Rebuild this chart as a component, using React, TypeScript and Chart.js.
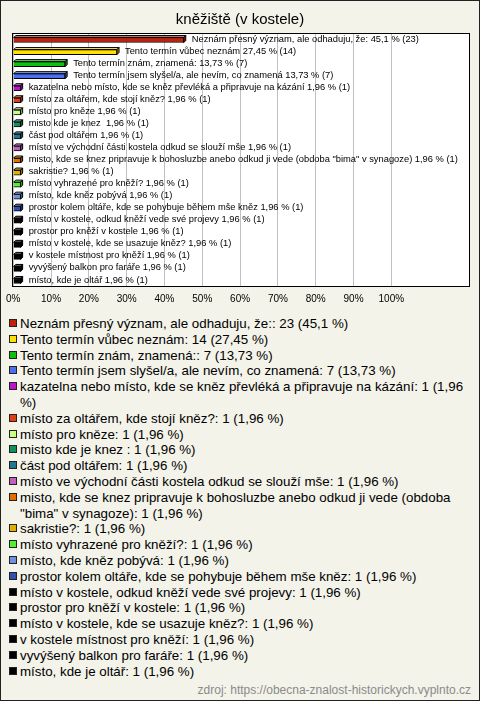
import React, { useEffect, useRef } from "react";
import { Chart, registerables } from "chart.js";

Chart.register(...registerables);

const TITLE = "kněžiště (v kostele)";
const SOURCE = "zdroj: https://obecna-znalost-historickych.vyplnto.cz";

const categories = [
  "Neznám přesný význam, ale odhaduju, že:",
  "Tento termín vůbec neznám",
  "Tento termín znám, znamená:",
  "Tento termín jsem slyšel/a, ale nevím, co znamená",
  "kazatelna nebo místo, kde se kněz převléká a připravuje na kázání",
  "místo za oltářem, kde stojí kněz?",
  "místo pro kněze",
  "misto kde je knez ",
  "část pod oltářem",
  "místo ve východní části kostela odkud se slouží mše",
  "misto, kde se knez pripravuje k bohosluzbe anebo odkud ji vede (obdoba \"bima\" v synagoze)",
  "sakristie?",
  "místo vyhrazené pro kněží?",
  "místo, kde kněz pobývá",
  "prostor kolem oltáře, kde se pohybuje během mše kněz",
  "místo v kostele, odkud kněží vede své projevy",
  "prostor pro kněží v kostele",
  "místo v kostele, kde se usazuje kněz?",
  "v kostele místnost pro kněží",
  "vyvýšený balkon pro faráře",
  "místo, kde je oltář",
];

// bar-side label prefixes (as shown next to bars)
const barPrefixes = [
  "Neznám přesný význam, ale odhaduju, že:",
  "Tento termín vůbec neznám",
  "Tento termín znám, znamená:",
  "Tento termín jsem slyšel/a, ale nevím, co znamená",
  "kazatelna nebo místo, kde se kněz převléká a připravuje na kázání",
  "místo za oltářem, kde stojí kněz?",
  "místo pro kněze",
  "misto kde je knez ",
  "část pod oltářem",
  "místo ve východní části kostela odkud se slouží mše",
  "misto, kde se knez pripravuje k bohosluzbe anebo odkud ji vede (obdoba \"bima\" v synagoze)",
  "sakristie?",
  "místo vyhrazené pro kněží?",
  "místo, kde kněz pobývá",
  "prostor kolem oltáře, kde se pohybuje během mše kněz",
  "místo v kostele, odkud kněží vede své projevy",
  "prostor pro kněží v kostele",
  "místo v kostele, kde se usazuje kněz?",
  "v kostele místnost pro kněží",
  "vyvýšený balkon pro faráře",
  "místo, kde je oltář",
];

// legend prefixes
const legendPrefixes = [
  "Neznám přesný význam, ale odhaduju, že::",
  "Tento termín vůbec neznám:",
  "Tento termín znám, znamená::",
  "Tento termín jsem slyšel/a, ale nevím, co znamená:",
  "kazatelna nebo místo, kde se kněz převléká a připravuje na kázání:",
  "místo za oltářem, kde stojí kněz?:",
  "místo pro kněze:",
  "misto kde je knez :",
  "část pod oltářem:",
  "místo ve východní části kostela odkud se slouží mše:",
  "misto, kde se knez pripravuje k bohosluzbe anebo odkud ji vede (obdoba \"bima\" v synagoze):",
  "sakristie?:",
  "místo vyhrazené pro kněží?:",
  "místo, kde kněz pobývá:",
  "prostor kolem oltáře, kde se pohybuje během mše kněz:",
  "místo v kostele, odkud kněží vede své projevy:",
  "prostor pro kněží v kostele:",
  "místo v kostele, kde se usazuje kněz?:",
  "v kostele místnost pro kněží:",
  "vyvýšený balkon pro faráře:",
  "místo, kde je oltář:",
];

const counts = [23, 14, 7, 7, 1, 1, 1, 1, 1, 1, 1, 1, 1, 1, 1, 1, 1, 1, 1, 1, 1];
const percents = [45.1, 27.45, 13.73, 13.73, 1.96, 1.96, 1.96, 1.96, 1.96, 1.96, 1.96, 1.96, 1.96, 1.96, 1.96, 1.96, 1.96, 1.96, 1.96, 1.96, 1.96];
const percentText = ["45,1", "27,45", "13,73", "13,73", "1,96", "1,96", "1,96", "1,96", "1,96", "1,96", "1,96", "1,96", "1,96", "1,96", "1,96", "1,96", "1,96", "1,96", "1,96", "1,96", "1,96"];

const colors = [
  "#c0200c", "#ffe000", "#10c010", "#4a70f0", "#c010d0", "#e04010", "#ccff80",
  "#109060", "#207890", "#c060c0", "#e07000", "#e0b000", "#50f030", "#7090e0",
  "#3050b0", "#000000", "#000000", "#000000", "#000000", "#000000", "#000000",
];

const xTicks = [0, 10, 20, 30, 40, 50, 60, 70, 80, 90, 100];
const X_MAX = 120.8;

const FONT = "'Liberation Sans', Arial, sans-serif";

function shade(hex: string, amt: number) {
  const n = parseInt(hex.slice(1), 16);
  let r = (n >> 16) & 255, g = (n >> 8) & 255, b = n & 255;
  if (amt >= 0) {
    r = Math.round(r + (255 - r) * amt);
    g = Math.round(g + (255 - g) * amt);
    b = Math.round(b + (255 - b) * amt);
  } else {
    r = Math.round(r * (1 + amt));
    g = Math.round(g * (1 + amt));
    b = Math.round(b * (1 + amt));
  }
  return `rgb(${r},${g},${b})`;
}

const decorPlugin = {
  id: "decor",
  beforeDraw(chart: any) {
    const { ctx, chartArea: a } = chart;
    ctx.save();
    ctx.fillStyle = "#ffffff";
    ctx.fillRect(a.left - 1, a.top - 1, a.right - a.left + 1, a.bottom - a.top + 1);
    ctx.fillStyle = "#000";
    ctx.font = `15px ${FONT}`;
    ctx.textAlign = "center";
    ctx.textBaseline = "middle";
    ctx.fillText(TITLE, chart.width / 2, 20);
    ctx.restore();
  },
  afterDatasetsDraw(chart: any) {
    const { ctx } = chart;
    const meta = chart.getDatasetMeta(0);
    const d = 2;
    ctx.save();
    meta.data.forEach((el: any, i: number) => {
      const { x, y, base, height } = el.getProps(["x", "y", "base", "height"], true);
      const top = y - height / 2;
      const bottom = y + height / 2;
      const c = colors[i];
      ctx.lineWidth = 1;
      ctx.strokeStyle = "#000";
      // top face
      ctx.beginPath();
      ctx.moveTo(base, top);
      ctx.lineTo(base + d, top - d);
      ctx.lineTo(x + d, top - d);
      ctx.lineTo(x, top);
      ctx.closePath();
      ctx.fillStyle = shade(c, 0.35);
      ctx.fill();
      ctx.stroke();
      // right face
      ctx.beginPath();
      ctx.moveTo(x, top);
      ctx.lineTo(x + d, top - d);
      ctx.lineTo(x + d, bottom - d);
      ctx.lineTo(x, bottom);
      ctx.closePath();
      ctx.fillStyle = shade(c, -0.3);
      ctx.fill();
      ctx.stroke();
      // label
      ctx.fillStyle = "#000";
      ctx.font = `9.33px ${FONT}`;
      ctx.textAlign = "left";
      ctx.textBaseline = "middle";
      ctx.fillText(
        `${barPrefixes[i]} ${percentText[i]} % (${counts[i]})`,
        x + d + 6,
        y - 1
      );
    });
    ctx.restore();
  },
  afterDraw(chart: any) {
    const { ctx, chartArea: a } = chart;
    ctx.save();
    ctx.strokeStyle = "#000";
    ctx.lineWidth = 1;
    ctx.strokeRect(Math.round(a.left) - 0.5, Math.round(a.top) - 0.5, Math.round(a.right - a.left), Math.round(a.bottom - a.top));
    ctx.restore();
  },
};

export default function App() {
  const canvasRef = useRef<HTMLCanvasElement | null>(null);

  useEffect(() => {
    if (!canvasRef.current) return;
    const chart = new Chart(canvasRef.current, {
      type: "bar",
      data: {
        labels: categories,
        datasets: [
          {
            data: percents,
            backgroundColor: colors,
            borderColor: "#000",
            borderWidth: 1,
            barThickness: 5,
          },
        ],
      },
      options: {
        indexAxis: "y",
        responsive: false,
        animation: false,
        devicePixelRatio: 1,
        layout: { padding: { top: 34, left: 11, right: 10, bottom: 5 } },
        plugins: {
          legend: { display: false },
          title: { display: false },
          tooltip: { enabled: false },
        },
        scales: {
          x: {
            min: 0,
            max: X_MAX,
            afterBuildTicks: (scale: any) => {
              scale.ticks = xTicks.map((v) => ({ value: v }));
            },
            afterFit: (scale: any) => {
              scale.height = 20;
            },
            grid: { color: "#c0c0c0", drawTicks: false },
            border: { display: false },
            ticks: {
              padding: 6,
              color: "#000",
              font: { family: FONT, size: 10 },
              callback: (v: any) => `${v}%`,
            },
          },
          y: {
            display: false,
          },
        },
      },
      plugins: [decorPlugin],
    });
    return () => chart.destroy();
  }, []);

  return (
    <div
      style={{
        position: "absolute",
        left: 0,
        top: 0,
        width: 480,
        height: 701,
        background: "#f3f3ea",
        fontFamily: FONT,
        overflow: "hidden",
      }}
    >
      <canvas
        ref={canvasRef}
        width={480}
        height={312}
        style={{ position: "absolute", left: 0, top: 0, width: 480, height: 312 }}
      />
      <div
        style={{
          position: "absolute",
          left: 9,
          top: 316,
          width: 462,
          fontSize: "13.33px",
          lineHeight: "15.8px",
          color: "#000",
        }}
      >
        {legendPrefixes.map((p, i) => (
          <div key={i} style={{ display: "flex", alignItems: "flex-start" }}>
            <span
              style={{
                flex: "0 0 auto",
                width: 8,
                height: 8,
                boxSizing: "border-box",
                border: "1px solid #222",
                background: colors[i],
                marginTop: 3,
                marginRight: 3,
              }}
            />
            <span>{`${p} ${counts[i]} (${percentText[i]} %)`}</span>
          </div>
        ))}
      </div>
      <div
        style={{
          position: "absolute",
          right: 9,
          top: 683,
          fontSize: 12,
          lineHeight: "14px",
          color: "#8a8a8a",
        }}
      >
        {SOURCE}
      </div>
      <div
        style={{
          position: "absolute",
          left: 0,
          top: 0,
          width: 480,
          height: 701,
          boxSizing: "border-box",
          border: "1px solid #222",
          pointerEvents: "none",
        }}
      />
    </div>
  );
}
